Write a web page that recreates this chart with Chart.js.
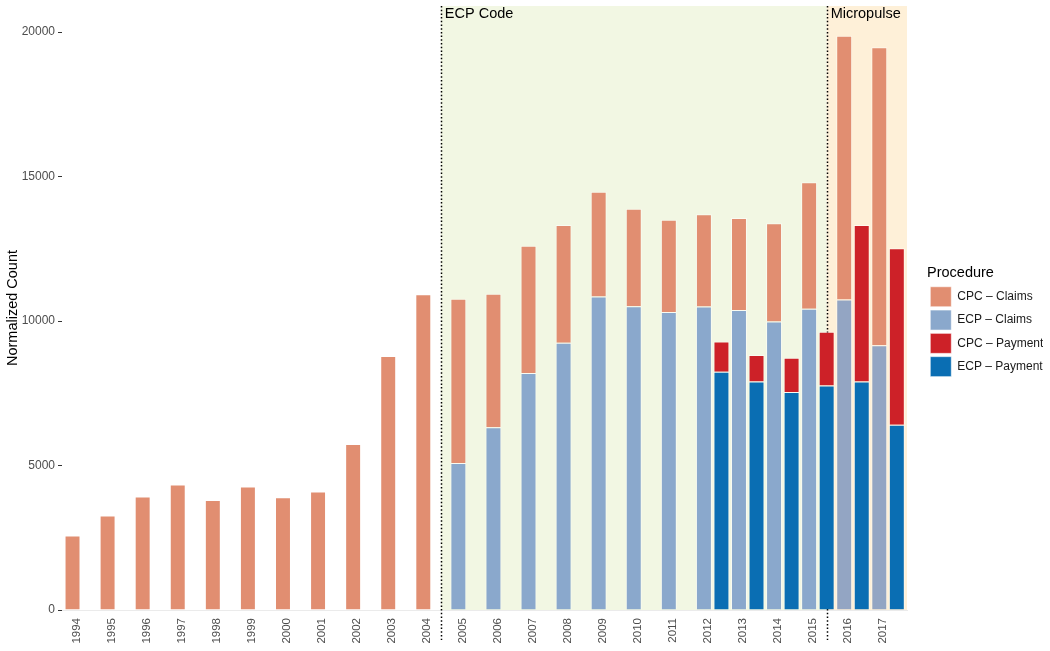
<!DOCTYPE html>
<html>
<head>
<meta charset="utf-8">
<script src="https://cdn.jsdelivr.net/npm/chart.js@4/dist/chart.umd.min.js"></script>
<style>
  html, body { margin: 0; padding: 0; background: #fff; }
  #wrap { width: 1050px; height: 651px; position: relative; }
</style>
</head>
<body>
<div id="wrap"><canvas id="chart"></canvas></div>
<script>
// data (stacked segment values)
const years = [1994, 1995, 1996, 1997, 1998, 1999, 2000, 2001, 2002, 2003, 2004, 2005,
  2006, 2007, 2008, 2009, 2010, 2011, 2012, 2013, 2014, 2015, 2016, 2017];
const cpcClaims = [2580, 3270, 3930, 4340, 3810, 4270, 3900, 4100, 5740, 8790, 10930, 5680,
  4620, 4400, 4070, 3620, 3370, 3190, 3190, 3180, 3400, 4380, 9130, 10310];
const ecpClaims = [null, null, null, null, null, null, null, null, null, null, null, 5090,
  6320, 8200, 9250, 10850, 10510, 10310, 10500, 10380, 9980, 10420, 10740, 9160];
const paymentYears = [2012, 2013, 2014, 2015, 2016, 2017];
const cpcPayment = [1050, 910, 1190, 1860, 5410, 6110];
const ecpPayment = [8240, 7910, 7540, 7770, 7910, 6410];
const paymentOffset = 0.5;

const yTicks = [0, 5000, 10000, 15000, 20000];
const legendOrder = ['CPC – Claims', 'ECP – Claims', 'CPC – Payment', 'ECP – Payment'];

const periodStarts = [2004.5, 2015.5];
const periodLabels = ['ECP Code', 'Micropulse'];
const periodColors = ['#F2F7E3', '#FEF0D8'];

const colors = {
  cpcClaims: '#E18E71',
  ecpClaims: '#8AA8CC',
  ecpClaimsLate: '#93A5C3',
  cpcPayment: '#CD2128',
  ecpPayment: '#0A6EB3'
};

Chart.defaults.font.family = "'Liberation Sans', Arial, sans-serif";
Chart.defaults.color = '#4D4D4D';

const toPoints = (xs, vals, off) =>
  xs.map((x, i) => ({ x: x + off, y: vals[i] })).filter(p => p.y !== null);

const barStyle = {
  borderColor: 'rgba(255,255,255,0.55)',
  borderWidth: 1,
  grouped: false,
  barPercentage: 0.91,
  categoryPercentage: 1
};

const periodsPlugin = {
  id: 'periods',
  beforeDatasetsDraw(chart) {
    const { ctx, chartArea, scales: { x, y } } = chart;
    const base = y.getPixelForValue(0);
    ctx.save();
    periodStarts.forEach((start, i) => {
      const x0 = x.getPixelForValue(start);
      const x1 = i + 1 < periodStarts.length ? x.getPixelForValue(periodStarts[i + 1]) : chartArea.right;
      ctx.fillStyle = periodColors[i];
      ctx.fillRect(x0, chartArea.top, x1 - x0, base - chartArea.top);
    });
    ctx.strokeStyle = '#000';
    ctx.lineWidth = 1.5;
    ctx.setLineDash([1.5, 2.2]);
    periodStarts.forEach(start => {
      const px = Math.round(x.getPixelForValue(start)) + 0.5;
      ctx.beginPath();
      ctx.moveTo(px, chartArea.top);
      ctx.lineTo(px, base + 30);
      ctx.stroke();
    });
    ctx.setLineDash([]);
    ctx.fillStyle = '#000';
    ctx.font = "14.5px 'Liberation Sans', Arial, sans-serif";
    ctx.textBaseline = 'alphabetic';
    ctx.textAlign = 'left';
    periodStarts.forEach((start, i) => {
      ctx.fillText(periodLabels[i], x.getPixelForValue(start) + 4, chartArea.top + 11.5);
    });
    ctx.restore();
  }
};

new Chart(document.getElementById('chart'), {
  type: 'bar',
  data: {
    datasets: [
      { label: 'ECP – Claims', data: toPoints(years, ecpClaims, 0),
        backgroundColor: c => (c.raw && c.raw.x > periodStarts[1]) ? colors.ecpClaimsLate : colors.ecpClaims,
        ...barStyle },
      { label: 'CPC – Claims', data: toPoints(years, cpcClaims, 0),
        backgroundColor: colors.cpcClaims, ...barStyle },
      { label: 'ECP – Payment', data: toPoints(paymentYears, ecpPayment, paymentOffset),
        backgroundColor: colors.ecpPayment, ...barStyle },
      { label: 'CPC – Payment', data: toPoints(paymentYears, cpcPayment, paymentOffset),
        backgroundColor: colors.cpcPayment, ...barStyle }
    ]
  },
  options: {
    responsive: true,
    maintainAspectRatio: false,
    animation: false,
    layout: { padding: { top: 6, right: 7, bottom: 0, left: 0 } },
    scales: {
      x: {
        type: 'linear',
        offset: false,
        min: 1993.7,
        max: 2017.79,
        afterBuildTicks: s => { s.ticks = years.map(v => ({ value: v })); },
        afterFit: s => { s.height = 41; s.paddingLeft = 0; s.paddingRight = 0; },
        grid: { display: false, drawTicks: false },
        border: { display: true, color: '#EBEBEB', width: 1 },
        ticks: {
          autoSkip: false,
          minRotation: 90,
          maxRotation: 90,
          padding: 8,
          labelOffset: 4,
          font: { size: 11.5 },
          color: '#4D4D4D',
          callback: v => String(v)
        }
      },
      y: {
        stacked: true,
        min: 0,
        max: 20900,
        afterBuildTicks: s => { s.ticks = yTicks.map(v => ({ value: v })); },
        afterFit: s => { s.width = 62; s.paddingTop = 0; s.paddingBottom = 0; },
        grid: { display: true, drawOnChartArea: false, drawTicks: true, tickLength: 4, color: '#333' },
        border: { display: false },
        ticks: { padding: 3, font: { size: 12 }, color: '#4D4D4D', callback: v => String(v) },
        title: { display: true, text: 'Normalized Count', color: '#000', font: { size: 14.5 }, padding: 4 }
      },
      gap: {
        position: 'right',
        display: true,
        grid: { display: false },
        border: { display: false },
        ticks: { display: false },
        afterFit: s => { s.width = 20; s.paddingTop = 0; s.paddingBottom = 0; }
      }
    },
    plugins: {
      tooltip: { enabled: false },
      legend: {
        position: 'right',
        align: 'center',
        fullSize: false,
        maxWidth: 116,
        title: {
          display: true,
          text: 'Procedure',
          position: 'start',
          color: '#000',
          font: { size: 14.5 },
          padding: { top: 30, bottom: 0 }
        },
        labels: {
          boxWidth: 21,
          boxHeight: 20,
          padding: 3.3,
          color: '#1A1A1A',
          font: { size: 12 },
          sort: (a, b) => legendOrder.indexOf(a.text) - legendOrder.indexOf(b.text)
        }
      }
    }
  },
  plugins: [periodsPlugin]
});
</script>
</body>
</html>
